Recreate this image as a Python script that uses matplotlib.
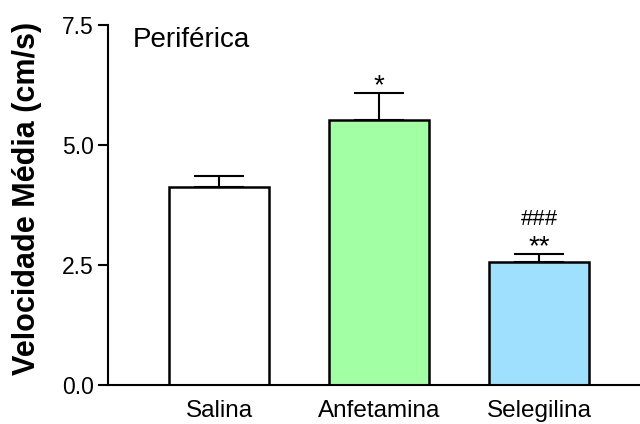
import matplotlib
matplotlib.use("Agg")
import matplotlib.pyplot as plt
import numpy as np

plt.rcParams["font.family"] = ["Liberation Sans", "DejaVu Sans"]

groups = ["Salina", "Anfetamina", "Selegilina"]
means = [4.12, 5.52, 2.56]
sems = [0.24, 0.56, 0.17]
colors = ["#FFFFFF", "#A3FFA3", "#A0E0FF"]
marks = ["", "*", "**"]
marks_hash = ["", "", "###"]

fig = plt.figure(figsize=(6.4, 4.24), dpi=100)
ax = fig.add_axes([0.16875, 0.092, 0.83125, 0.849])

x = np.arange(len(groups))
ax.bar(x, means, width=0.625, color=colors, edgecolor="black", linewidth=1.8, zorder=2)
# only the upper half of the SEM bar is drawn
ax.errorbar(x, means, yerr=[np.zeros(len(sems)), sems], fmt="none", ecolor="black",
            elinewidth=1.5, capsize=18, capthick=1.5, zorder=1)

for xi, m, s, t in zip(x, means, sems, marks):
    if t:
        ax.text(xi, m + s + 0.0, t, ha="center", va="baseline", fontsize=20)
for xi, m, s, t in zip(x, means, sems, marks_hash):
    if t:
        ax.text(xi, m + s + 0.6, t, ha="center", va="baseline", fontsize=16)

ax.set_xlim(-0.694, 2.631)
ax.set_ylim(0, 7.5)
ax.set_yticks([0.0, 2.5, 5.0, 7.5])
ax.set_yticklabels(["0.0", "2.5", "5.0", "7.5"])
ax.set_xticks(x)
ax.set_xticklabels(groups)
ax.tick_params(axis="y", direction="out", length=7, width=1.5, labelsize=16.5, pad=3)
ax.tick_params(axis="x", length=0, labelsize=17.5, pad=11)

for side in ["top", "right"]:
    ax.spines[side].set_visible(False)
for side in ["left", "bottom"]:
    ax.spines[side].set_linewidth(1.5)

ax.set_ylabel("Velocidade Média (cm/s)", fontsize=22, fontweight="bold")
ax.yaxis.set_label_coords(-0.124, 0.517)
ax.text(0.046, 0.939, "Periférica", transform=ax.transAxes, fontsize=20,
        va="baseline", ha="left")

fig.savefig("out.png", dpi=100)
